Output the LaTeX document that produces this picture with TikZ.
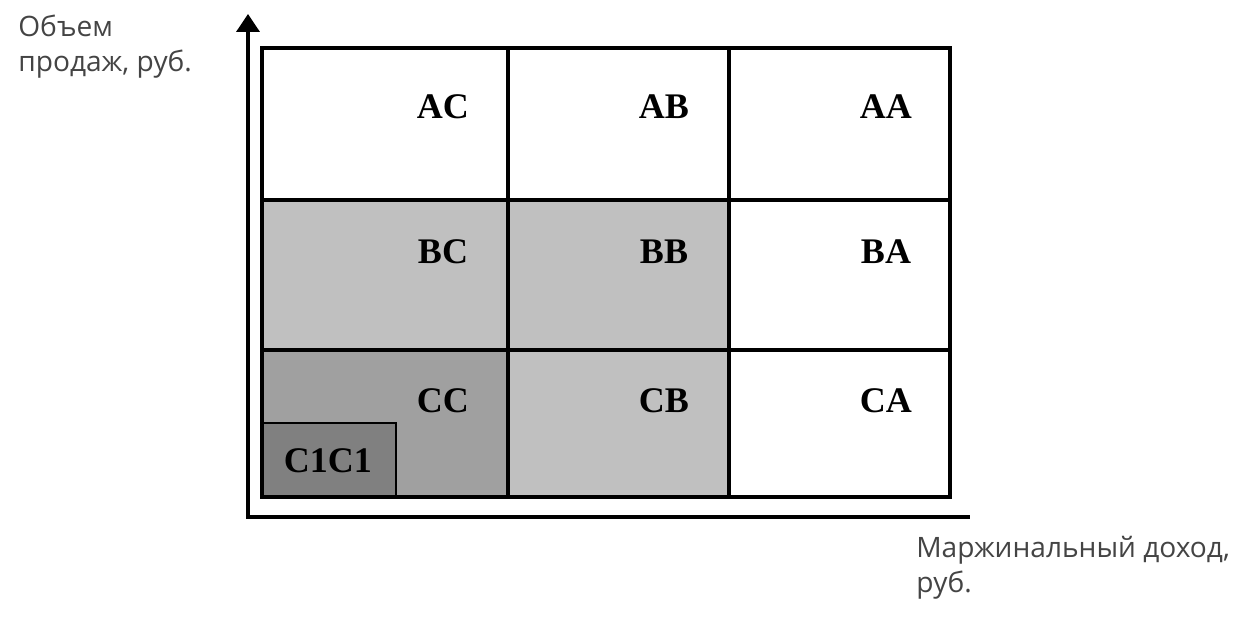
\documentclass[tikz,border=0pt]{standalone}
\usepackage{fontspec}
\setmainfont{Liberation Serif}
\newfontfamily\axisfont{Open Sans}
\usepackage{xcolor}
\usetikzlibrary{arrows.meta,positioning}
\definecolor{lightcell}{RGB}{192,192,192}
\definecolor{midcell}{RGB}{160,160,160}
\definecolor{darkcell}{RGB}{128,128,128}
\definecolor{axistext}{RGB}{68,68,68}

\begin{document}
\begin{tikzpicture}[x=0.02cm,y=-0.02cm,
  cell/.style={font=\fontsize{20.5}{24}\selectfont\bfseries, inner sep=0pt},
  axislabel/.style={font=\axisfont\fontsize{16}{19.8}\selectfont, text=axistext, align=left, inner sep=0pt, anchor=north west},
  gridline/.style={line width=2.8pt}]
  \useasboundingbox (0,0) rectangle (1249,617);
  % shaded cells
  \fill[lightcell] (262,200) rectangle (729,350);
  \fill[lightcell] (508,350) rectangle (729,497);
  \fill[midcell] (262,350) rectangle (508,497);
  \draw[line width=1pt, fill=darkcell] (262,423) rectangle (396,497);
  % grid
  \draw[gridline] (262,48) rectangle (950,497);
  \foreach \x in {508,729} \draw[gridline] (\x,48) -- (\x,497);
  \foreach \y in {200,350} \draw[gridline] (262,\y) -- (950,\y);
  % axes
  \coordinate (origin) at (248,517);
  \coordinate (ytip) at (248,14);
  \coordinate (xend) at (970,517);
  \draw[line width=2.2pt, -{Triangle[length=10.2pt,width=13pt]}] (origin) -- (ytip);
  \draw[line width=2.2pt] ([xshift=-1.1pt]origin) -- (xend);
  % cell labels
  \foreach \name/\x/\y in {AC/443/107, AB/664/107, AA/886/107,
                           BC/443/252, BB/664/252, BA/886/252,
                           CC/443/401, CB/664/401, CA/886/401}
    \node[cell] (\name) at (\x,\y) {\name};
  \node[cell] (C1C1) at (328,461) {C1C1};
  % axis labels
  \node[axislabel] (ylabel) at (18,15) {Объем\\продаж, руб.};
  \node[axislabel] (xlabel) at (916,536) {Маржинальный доход,\\руб.};
\end{tikzpicture}
\end{document}
